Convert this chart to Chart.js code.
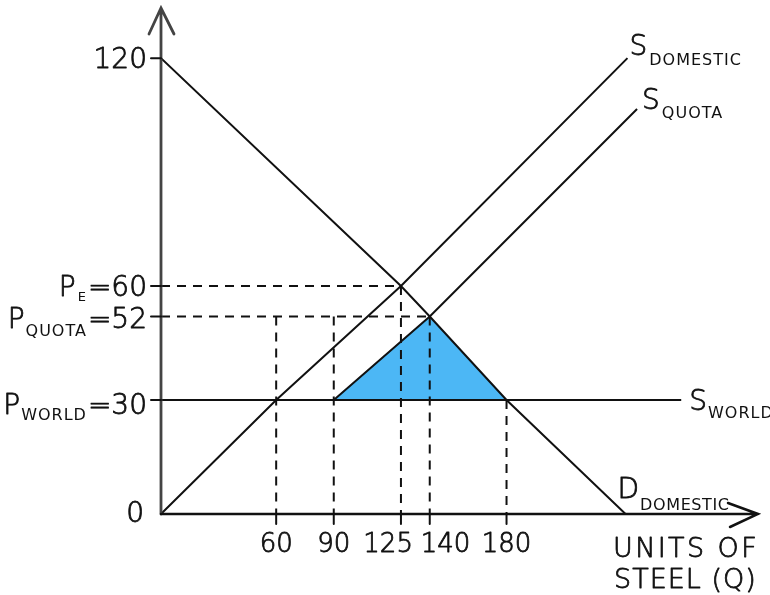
<!DOCTYPE html>
<html>
<head>
<meta charset="utf-8">
<script src="https://cdn.jsdelivr.net/npm/chart.js@4.4.0/dist/chart.umd.min.js"></script>
<style>
  html, body { margin: 0; padding: 0; background: #fff; }
  #wrap { width: 770px; height: 595px; position: relative; }
</style>
</head>
<body>
<div id="wrap"><canvas id="quotaChart"></canvas></div>
<script>
// values (Q = units of steel, P = price)
const demandQ = [0, 125, 140, 180, 242];
const demandP = [120, 60, 52, 30, 0];
const supplyDomesticQ = [0, 60, 125, 243];
const supplyDomesticP = [0, 30, 60, 120];
const supplyQuotaQ = [90, 140, 248];
const supplyQuotaP = [30, 52, 106.6];
const worldSupplyQ = [0, 271];
const worldPrice = 30;
const quotaPrice = 52;
const eqPrice = 60;
const eqQty = 125;
const quotaQty = 140;
const triangleQ = [90, 140, 180];
const triangleP = [30, 52, 30];
const dropQ = [60, 90, 125, 140, 180];      // dashed verticals
const dropTopP = [52, 52, 60, 52, 30];
const xTickValues = [60, 90, 125, 140, 180];
const yTickValues = [120, 60, 52, 30];

const pts = (xs, ys) => xs.map((x, i) => ({ x: x, y: ys[i] }));
const INK = '#111';
const FONT = "'DejaVu Sans', sans-serif";
const LIGHT = '300 ';

const solid = (data) => ({
    data: data, showLine: true, pointRadius: 0, borderColor: INK,
    borderWidth: 2, fill: false, tension: 0, order: 1
});
const dashed = (data) => ({
    data: data, showLine: true, pointRadius: 0, borderColor: INK,
    borderWidth: 2, borderDash: [9, 7], fill: false, tension: 0, order: 2
});

const datasets = [
    solid(pts(demandQ, demandP)),
    solid(pts(supplyDomesticQ, supplyDomesticP)),
    solid(pts(supplyQuotaQ, supplyQuotaP)),
    solid(worldSupplyQ.map(q => ({ x: q, y: worldPrice }))),
    dashed([{ x: 0, y: eqPrice }, { x: eqQty, y: eqPrice }]),
    dashed([{ x: 0, y: quotaPrice }, { x: quotaQty, y: quotaPrice }]),
    ...dropQ.map((q, i) => dashed([{ x: q, y: dropTopP[i] }, { x: q, y: 0 }])),
    {
        data: pts(triangleQ, triangleP), showLine: true, pointRadius: 0,
        borderWidth: 0, borderColor: 'rgba(0,0,0,0)',
        backgroundColor: '#4cb7f5', fill: { value: worldPrice }, order: 10
    }
];

// light text thickened a little, like a felt pen
function penText(ctx, s, x, y) {
    ctx.fillText(s, x, y);
    ctx.lineWidth = 0.8;
    ctx.strokeText(s, x, y);
}

// text with a small-caps style subscript
function subText(ctx, x, y, main, sub, tail, opt) {
    const big = opt.big || 28, small = opt.small || 16, drop = opt.drop || 8;
    const sp = (opt.sp === undefined ? 1 : opt.sp) + 'px';
    ctx.font = LIGHT + big + 'px ' + FONT;
    ctx.letterSpacing = '0px';
    const wMain = ctx.measureText(main).width;
    ctx.font = small + 'px ' + FONT;
    ctx.letterSpacing = sp;
    const wSub = sub ? ctx.measureText(sub).width : 0;
    ctx.font = LIGHT + big + 'px ' + FONT;
    ctx.letterSpacing = '0px';
    const wTail = tail ? ctx.measureText(tail).width : 0;
    const gap = opt.gap || 1;
    let left = x;
    if (opt.align === 'right') left = x - (wMain + gap + wSub + gap + wTail);
    ctx.textAlign = 'left';
    ctx.textBaseline = 'alphabetic';
    penText(ctx, main, left, y);
    if (sub) {
        ctx.font = small + 'px ' + FONT;
        ctx.letterSpacing = sp;
        ctx.fillText(sub, left + wMain + gap, y + drop);
        ctx.letterSpacing = '0px';
    }
    if (tail) {
        ctx.font = LIGHT + big + 'px ' + FONT;
        penText(ctx, tail, left + wMain + gap + wSub + gap, y);
    }
}

const decor = {
    id: 'decor',
    afterDatasetsDraw(chart) {
        const ctx = chart.ctx;
        const xs = chart.scales.x, ys = chart.scales.y;
        const x0 = xs.getPixelForValue(0), y0 = ys.getPixelForValue(0);
        const top = chart.chartArea.top, right = chart.chartArea.right;
        ctx.save();
        ctx.strokeStyle = INK;
        ctx.fillStyle = INK;
        ctx.lineCap = 'round';

        // axes with arrow heads
        ctx.lineWidth = 2.8;
        ctx.strokeStyle = '#444';
        ctx.beginPath();
        ctx.moveTo(x0, y0); ctx.lineTo(x0, top);
        ctx.moveTo(x0 - 12, top + 26); ctx.lineTo(x0, top); ctx.lineTo(x0 + 13, top + 26);
        ctx.stroke();
        ctx.lineWidth = 2.5;
        ctx.strokeStyle = INK;
        ctx.beginPath();
        ctx.moveTo(x0, y0); ctx.lineTo(right, y0);
        ctx.moveTo(right - 30, y0 - 11); ctx.lineTo(right, y0); ctx.lineTo(right - 28, y0 + 13);
        ctx.stroke();

        // tick marks
        ctx.lineWidth = 2;
        ctx.beginPath();
        yTickValues.forEach(v => {
            const py = ys.getPixelForValue(v);
            ctx.moveTo(x0 - 10, py); ctx.lineTo(x0, py);
        });
        xTickValues.forEach(v => {
            const px = xs.getPixelForValue(v);
            ctx.moveTo(px, y0); ctx.lineTo(px, y0 + 10);
        });
        ctx.stroke();
        ctx.lineCap = 'butt';
        ctx.lineJoin = 'round';

        // x tick labels (125 and 140 nudged apart as in the sketch)
        ctx.font = LIGHT + '26px ' + FONT;
        ctx.textBaseline = 'alphabetic';
        xTickValues.forEach(v => {
            const px = xs.getPixelForValue(v);
            if (v === eqQty) { ctx.textAlign = 'right'; penText(ctx, String(v), px + 12, y0 + 38); }
            else if (v === quotaQty) { ctx.textAlign = 'left'; penText(ctx, String(v), px - 9, y0 + 38); }
            else { ctx.textAlign = 'center'; penText(ctx, String(v), px, y0 + 38); }
        });

        // y tick labels
        const lx = x0 - 14;
        ctx.font = LIGHT + '28px ' + FONT;
        ctx.textAlign = 'right';
        penText(ctx, '120', lx, ys.getPixelForValue(120) + 10);
        penText(ctx, '0', x0 - 17, y0 + 8);
        subText(ctx, lx, ys.getPixelForValue(eqPrice) + 10, 'P', 'E', '=' + eqPrice,
            { align: 'right', small: 13, drop: 5, sp: 0, gap: 2 });
        subText(ctx, lx, ys.getPixelForValue(quotaPrice) + 12, 'P', 'QUOTA', '=' + quotaPrice,
            { align: 'right', drop: 8 });
        subText(ctx, lx, ys.getPixelForValue(worldPrice) + 14, 'P', 'WORLD', '=' + worldPrice,
            { align: 'right', drop: 6 });

        // curve labels, placed from each line's end point
        const end = (qs, ps) => ({
            x: xs.getPixelForValue(qs[qs.length - 1]),
            y: ys.getPixelForValue(ps[ps.length - 1])
        });
        let e = end(supplyDomesticQ, supplyDomesticP);
        subText(ctx, e.x + 2, e.y - 3, 'S', 'DOMESTIC', '', { drop: 10, gap: 2 });
        e = end(supplyQuotaQ, supplyQuotaP);
        subText(ctx, e.x + 5, e.y, 'S', 'QUOTA', '', { drop: 9, gap: 2 });
        e = { x: xs.getPixelForValue(worldSupplyQ[1]), y: ys.getPixelForValue(worldPrice) };
        subText(ctx, e.x + 8, e.y + 10, 'S', 'WORLD', '', { drop: 8, gap: 1 });
        e = end(demandQ, demandP);
        subText(ctx, e.x - 8, e.y - 16, 'D', 'DOMESTIC', '', { drop: 12, gap: 1, sp: 0.6 });

        // axis title
        ctx.font = LIGHT + '27px ' + FONT;
        ctx.textAlign = 'left';
        ctx.letterSpacing = '2.4px';
        penText(ctx, 'UNITS OF', 613, y0 + 43);
        ctx.letterSpacing = '1px';
        penText(ctx, 'STEEL (Q)', 614, y0 + 74);
        ctx.restore();
    }
};

new Chart(document.getElementById('quotaChart'), {
    type: 'scatter',
    data: { datasets: datasets },
    options: {
        responsive: true,
        maintainAspectRatio: false,
        animation: false,
        layout: { padding: { left: 161, right: 12, top: 8, bottom: 81 } },
        plugins: { legend: { display: false }, tooltip: { enabled: false } },
        scales: {
            x: { type: 'linear', min: 0, max: 311, display: false },
            y: { type: 'linear', min: 0, max: 133.2, display: false }
        }
    },
    plugins: [decor]
});
</script>
</body>
</html>
